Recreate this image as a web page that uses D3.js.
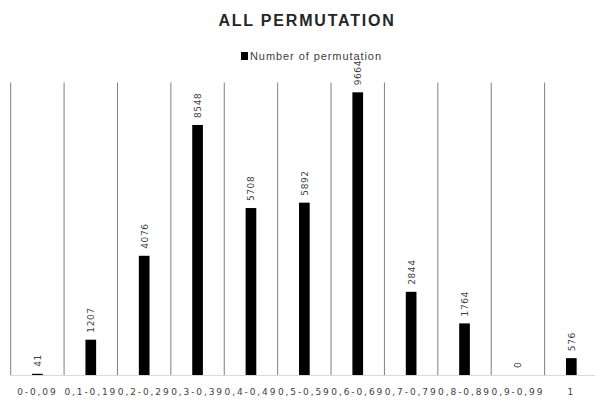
<!DOCTYPE html>
<html>
<head>
<meta charset="utf-8">
<script src="https://cdn.jsdelivr.net/npm/d3@7/dist/d3.min.js"></script>
<style>
  html, body { margin: 0; padding: 0; background: #fff; }
  svg { display: block; }
</style>
</head>
<body>
<svg id="chart" width="595" height="403"></svg>
<script>
// Permutation counts per similarity range
const categories = ["0-0,09", "0,1-0,19", "0,2-0,29", "0,3-0,39", "0,4-0,49", "0,5-0,59",
                    "0,6-0,69", "0,7-0,79", "0,8-0,89", "0,9-0,99", "1"];
const permutations = [41, 1207, 4076, 8548, 5708, 5892, 9664, 2844, 1764, 0, 576];
const seriesName = "Number of permutation";
const chartTitle = "ALL PERMUTATION";
const yDomain = [0, 10000];

const svg = d3.select("#chart");
const W = 595, H = 403;

const plot = { left: 10.7, right: 598, top: 82.5, bottom: 375 };

const x = d3.scaleBand()
  .domain(categories)
  .range([plot.left, plot.right])
  .paddingInner(0)
  .paddingOuter(0);

const y = d3.scaleLinear()
  .domain(yDomain)
  .range([plot.bottom, plot.top]);

// Vertical separators between categories
const bounds = categories.map(c => x(c)).concat([plot.right]);
svg.append("g")
  .selectAll("line")
  .data(bounds)
  .join("line")
  .attr("x1", d => d).attr("x2", d => d)
  .attr("y1", plot.top).attr("y2", plot.bottom)
  .attr("stroke", "#7f7f7f")
  .attr("stroke-width", 1);

// Category axis
const xAxis = svg.append("g")
  .attr("transform", `translate(0,${plot.bottom + 0.5})`)
  .call(d3.axisBottom(x).tickSize(0).tickPadding(13));
xAxis.select(".domain").attr("stroke", "#d9d9d9").attr("stroke-width", 1)
  .attr("d", `M${plot.left},0H${W}`);
xAxis.selectAll("text")
  .attr("font-family", "DejaVu Sans, sans-serif")
  .attr("font-size", "9px")
  .attr("letter-spacing", "1.9px")
  .attr("fill", "#404040");

// Bars
const barW = x.bandwidth() * 0.2;
svg.append("g")
  .selectAll("rect")
  .data(permutations)
  .join("rect")
  .attr("x", (d, i) => x(categories[i]) + x.bandwidth() / 2 - barW / 2)
  .attr("y", d => y(d))
  .attr("width", barW)
  .attr("height", d => y(0) - y(d))
  .attr("fill", "#000");

// Rotated value labels above each bar
svg.append("g")
  .selectAll("text")
  .data(permutations)
  .join("text")
  .attr("transform", (d, i) =>
    `translate(${x(categories[i]) + x.bandwidth() / 2 + 3.5},${y(d) - 7}) rotate(-90)`)
  .attr("text-anchor", "start")
  .attr("font-family", "DejaVu Sans, sans-serif")
  .attr("font-size", "9px")
  .attr("letter-spacing", "0.6px")
  .attr("fill", "#404040")
  .text(d => d);

// Title
svg.append("text")
  .attr("x", 307)
  .attr("y", 26)
  .attr("text-anchor", "middle")
  .attr("font-family", "Liberation Sans, Arial, sans-serif")
  .attr("font-weight", "bold")
  .attr("font-size", "16px")
  .attr("letter-spacing", "1.8px")
  .attr("fill", "#262626")
  .text(chartTitle);

// Legend
const legend = svg.append("g").attr("transform", "translate(241,52)");
legend.append("rect")
  .attr("x", 0).attr("y", 0)
  .attr("width", 7).attr("height", 8)
  .attr("fill", "#000");
legend.append("text")
  .attr("x", 9)
  .attr("y", 8)
  .attr("font-family", "Liberation Sans, Arial, sans-serif")
  .attr("font-size", "11px")
  .attr("fill", "#404040")
  .attr("textLength", 131)
  .attr("lengthAdjust", "spacing")
  .text(seriesName);
</script>
</body>
</html>
